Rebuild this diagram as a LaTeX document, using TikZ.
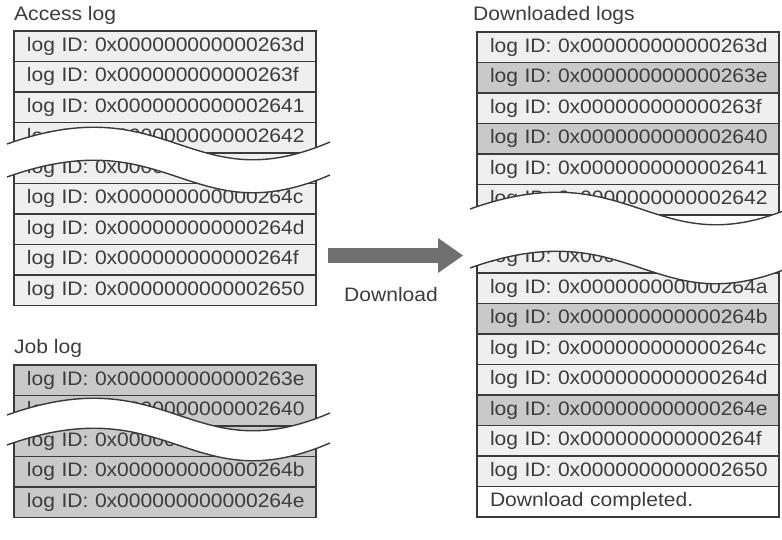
\documentclass[tikz,border=0pt]{standalone}
\usepackage{fontspec}
\setmainfont{Liberation Sans}[FakeStretch=1.08]
\usetikzlibrary{positioning,arrows.meta}

\definecolor{rowlight}{HTML}{EFEFEF}
\definecolor{rowdark}{HTML}{C9C9C9}
\definecolor{linegray}{HTML}{3A3A3A}
\definecolor{textgray}{HTML}{3C3C3C}
\definecolor{arrowgray}{HTML}{707070}

\tikzset{
	logrow/.style={draw=linegray,line width=1.3pt,fill=rowlight,text=textgray,
		minimum width=302pt,minimum height=30.5pt,text width=276pt,inner xsep=13pt,
		inner ysep=0pt,outer sep=0pt,anchor=north west,align=left,
		font=\fontsize{19.5}{22}\selectfont},
	jobrow/.style={logrow,fill=rowdark},
	donerow/.style={logrow,fill=white},
	logtitle/.style={anchor=west,inner sep=0pt,text=textgray,font=\fontsize{19.5}{22}\selectfont},
	wave/.style={draw=linegray,line width=1.4pt},
	bigarrow/.style={arrowgray,line width=15pt,-{Triangle[length=25pt,width=35pt,line width=0pt]}}
}

% one row text, kept on one line
\newcommand{\lid}[1]{\mbox{log ID: 0x000000000000#1}}
% white gap with two wavy edges: left x, upper y, gap
\newcommand{\logcut}[3]{%
	\fill[white] ({#1-7},#2) .. controls ({#1+156},{#2-58}) and ({#1+176},{#2+58}) .. ({#1+316},{#2-2})
		-- ({#1+316},{#2+#3-2}) .. controls ({#1+176},{#2+#3+58}) and ({#1+156},{#2+#3-58}) .. ({#1-7},{#2+#3}) -- cycle;
	\draw[wave] ({#1-7},#2) .. controls ({#1+156},{#2-58}) and ({#1+176},{#2+58}) .. ({#1+316},{#2-2});
	\draw[wave] ({#1-7},{#2+#3}) .. controls ({#1+156},{#2+#3-58}) and ({#1+176},{#2+#3+58}) .. ({#1+316},{#2+#3-2});
}

\begin{document}
\begin{tikzpicture}[x=1pt,y=-1pt]
	\useasboundingbox (0,0) rectangle (782,540);
	% access log
	\node[logtitle](acctitle) at (14,15){Access log};
	\node[logrow](a1) at (14,31){\lid{263d}};
	\node[logrow](a2)[below = 0pt of a1]{\lid{263f}};
	\node[logrow](a3)[below = 0pt of a2]{\lid{2641}};
	\node[logrow](a4)[below = 0pt of a3]{\lid{2642}};
	\node[logrow](a5)[below = 0pt of a4]{\lid{264a}};
	\node[logrow](a6)[below = 0pt of a5]{\lid{264c}};
	\node[logrow](a7)[below = 0pt of a6]{\lid{264d}};
	\node[logrow](a8)[below = 0pt of a7]{\lid{264f}};
	\node[logrow](a9)[below = 0pt of a8]{\lid{2650}};
	\logcut{14}{144}{33}
	% job log
	\node[logtitle](jobtitle) at (14,348){Job log};
	\node[jobrow](j1) at (14,365){\lid{263e}};
	\node[jobrow](j2)[below = 0pt of j1]{\lid{2640}};
	\node[jobrow](j3)[below = 0pt of j2]{\lid{2648}};
	\node[jobrow](j4)[below = 0pt of j3]{\lid{264b}};
	\node[jobrow](j5)[below = 0pt of j4]{\lid{264e}};
	\logcut{14}{415}{30}
	% downloaded logs
	\node[logtitle](dltitle) at (473,15){Downloaded logs};
	\node[logrow](d1) at (477,32){\lid{263d}};
	\node[jobrow](d2)[below = 0pt of d1]{\lid{263e}};
	\node[logrow](d3)[below = 0pt of d2]{\lid{263f}};
	\node[jobrow](d4)[below = 0pt of d3]{\lid{2640}};
	\node[logrow](d5)[below = 0pt of d4]{\lid{2641}};
	\node[logrow](d6)[below = 0pt of d5]{\lid{2642}};
	\node[logrow](d7)[below = 27.5pt of d6]{\lid{2649}};
	\node[logrow](d8)[below = 0pt of d7]{\lid{264a}};
	\node[jobrow](d9)[below = 0pt of d8]{\lid{264b}};
	\node[logrow](d10)[below = 0pt of d9]{\lid{264c}};
	\node[logrow](d11)[below = 0pt of d10]{\lid{264d}};
	\node[jobrow](d12)[below = 0pt of d11]{\lid{264e}};
	\node[logrow](d13)[below = 0pt of d12]{\lid{264f}};
	\node[logrow](d14)[below = 0pt of d13]{\lid{2650}};
	\node[donerow](d15)[below = 0pt of d14]{Download completed.};
	\logcut{477}{209}{59}
	% download arrow
	\coordinate(arrfrom) at (328,255.5);
	\coordinate(arrto) at (463,255.5);
	\draw[bigarrow](arrfrom) -- (arrto);
	\node[logtitle,anchor=center](dllabel) at (391,295){Download};
\end{tikzpicture}
\end{document}
